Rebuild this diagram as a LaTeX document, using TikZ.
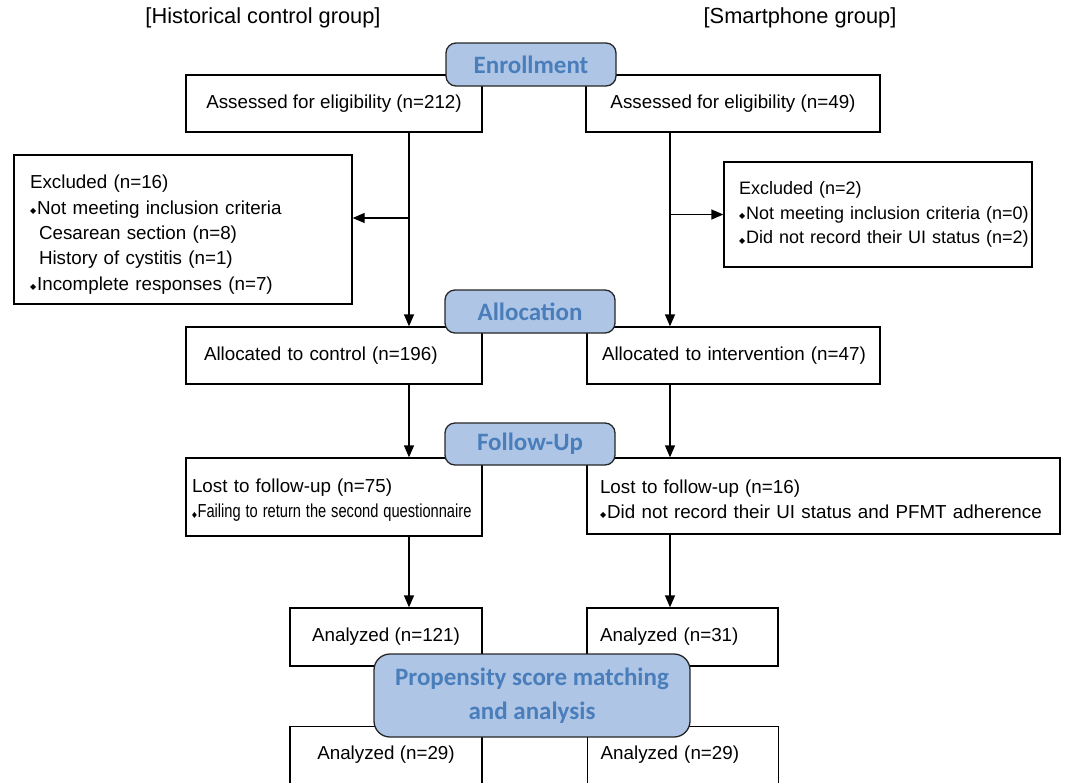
\documentclass[tikz,border=0pt]{standalone}
\usepackage{fontspec}
\usepackage{graphicx}
\setmainfont{Liberation Sans}
\newfontfamily\labfont{Carlito}
\newfontfamily\symfont{DejaVu Sans}
\usetikzlibrary{arrows.meta}
\definecolor{labfill}{HTML}{AEC5E6}
\definecolor{labtext}{HTML}{4A7EBB}
\newcommand{\bul}{\raisebox{0.5pt}{\symfont\fontsize{8}{8}\selectfont ◆}\kern1pt}

\begin{document}
\begin{tikzpicture}[
        x=1pt, y=-1pt,
        line width=1.3pt,
        font=\fontsize{18.8}{25.3}\selectfont
    ]
    \tikzset{
        mybox/.style = {rectangle, draw=black, fill=white, inner sep=0pt, align=left, execute at begin node={\leftskip=#1\relax}},
        mybox/.default = 15pt,
        myboxc/.style = {rectangle, draw=black, fill=white, inner sep=0pt, align=center},
        mylabel/.style = {rectangle, rounded corners=10pt, draw=black!85, fill=labfill, text=labtext, align=center, inner sep=0pt, font=\labfont\bfseries\fontsize{25}{34}\selectfont},
        myhead/.style = {font=\fontsize{21.8}{26}\selectfont},
        edgea/.style = {-{Triangle[length=12pt,width=10pt]}},
    }
    \useasboundingbox (0,0) rectangle (1065,782);
    \clip (0,0) rectangle (1065,782);
    % group titles
    \node[myhead] at (263,18) (hdl) {[Historical control group]};
    \node[myhead] at (800,18) (hdr) {[Smartphone group]};
    % boxes
    \node[myboxc, minimum width=296pt, minimum height=57pt] at (334,103.5) (assL) {Assessed for eligibility (n=212)};
    \node[myboxc, minimum width=294pt, minimum height=57pt] at (733,103.5) (assR) {Assessed for eligibility (n=49)};
    \node[mybox=16pt, text width=338pt, minimum height=149pt] at (183,229.5) (exL) {\rule{0pt}{24pt}Excluded (n=16)\\
        \bul Not meeting inclusion criteria\\
        \hspace*{9pt}Cesarean section (n=8)\\
        \hspace*{9pt}History of cystitis (n=1)\\
        \bul Incomplete responses (n=7)};
    \node[mybox=15pt, text width=308pt, minimum height=105pt, font=\fontsize{18}{24.5}\selectfont] at (878,214.5) (exR) {Excluded (n=2)\\
        \bul Not meeting inclusion criteria (n=0)\\
        \bul Did not record their UI status (n=2)};
    \node[mybox=18pt, text width=296pt, minimum height=57pt] at (334,355.5) (allocL) {Allocated to control (n=196)};
    \node[mybox=15pt, text width=293pt, minimum height=57pt] at (733.5,355.5) (allocR) {Allocated to intervention (n=47)};
    \node[mybox=6pt, text width=296pt, minimum height=78pt] at (334,497) (lostL) {\rule{0pt}{20pt}Lost to follow-up (n=75)\\
        \scalebox{0.78}[1]{\bul Failing to return the second questionnaire}};
    \node[mybox=13pt, text width=473pt, minimum height=76pt] at (823.5,496) (lostR) {\rule{0pt}{20pt}Lost to follow-up (n=16)\\
        \bul Did not record their UI status and PFMT adherence};
    \node[myboxc, minimum width=192pt, minimum height=58pt] at (386,637) (anaL) {Analyzed (n=121)};
    \node[mybox=13pt, text width=191pt, minimum height=58pt] at (682.5,637) (anaR) {Analyzed (n=31)};
    \node[myboxc, anchor=north, minimum width=192pt, text height=33pt, text depth=60pt] at (386,726) (finL) {Analyzed (n=29)};
    \node[mybox=13pt, anchor=north west, text width=191pt, text height=33pt, text depth=60pt] at (587,726) (finR) {Analyzed (n=29)};
    %
    \coordinate (tl) at (409,0);
    \coordinate (tr) at (670,0);
    \coordinate (xl) at (409,218);
    \draw[edgea] (assL.south -| tl) -- (allocL.north -| tl);
    \draw[edgea] (xl) -- (xl -| exL.east);
    \draw[edgea] (assR.south -| tr) -- (allocR.north -| tr);
    \draw[edgea] (exR.west -| tr) -- (exR.west);
    %
    \draw[edgea] (allocL.south -| tl) -- (lostL.north -| tl);
    \draw[edgea] (allocR.south -| tr) -- (lostR.north -| tr);
    \draw[edgea] (lostL.south -| tl) -- (anaL.north -| tl);
    \draw[edgea] (lostR.south -| tr) -- (anaR.north -| tr);
    % stage labels
    \node[mylabel, minimum width=170pt, minimum height=43pt] at (531,64.5) (enr) {Enrollment};
    \node[mylabel, minimum width=170pt, minimum height=43pt] at (530,311.5) (alc) {Allocation};
    \node[mylabel, minimum width=170pt, minimum height=42pt] at (530,444) (fup) {Follow-Up};
    \node[mylabel, rounded corners=16pt, minimum width=316pt, minimum height=83pt] at (532,695.5) (psm) {Propensity score matching\\and analysis};
\end{tikzpicture}
\end{document}
